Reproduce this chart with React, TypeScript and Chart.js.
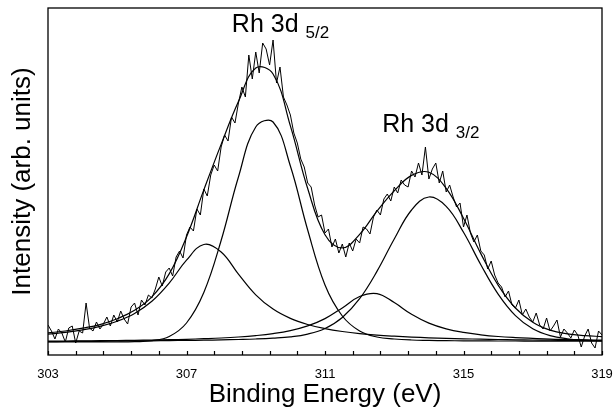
import React, { useEffect, useRef } from 'react';
import { Chart, registerables } from 'chart.js';

Chart.register(...registerables);

// Binding energy grid of the fitted curves (eV)
const fitEnergy = [
  303, 303.5, 304, 304.5, 305, 305.5, 306, 306.5, 307, 307.5, 308, 308.5, 309, 309.5, 310, 310.5,
  311, 311.5, 312, 312.5, 313, 313.5, 314, 314.5, 315, 315.5, 316, 316.5, 317, 317.5, 318, 318.5, 319,
];

// Fitted components (arb. units, drawn on the common baseline)
const peakA = [
  20.8, 22.6, 25.1, 28.6, 33.8, 41.6, 53.7, 71.9, 94.8, 110.5, 103, 80.9, 60.2, 45.9, 36.6, 30.5,
  26.4, 23.5, 21.4, 19.9, 18.8, 17.9, 17.2, 16.6, 16.2, 15.8, 15.5, 15.2, 15.0, 14.8, 14.6, 14.5, 14.4,
];
const peakB = [
  13, 13, 13, 13, 13, 13.3, 14.3, 18.5, 32, 62.5, 114.5, 178, 228, 233, 189, 125,
  70, 39, 24, 18, 16, 15, 14.6, 14.3, 14.2, 14.1, 14, 14, 13.9, 13.9, 13.9, 13.8, 13.8,
];
const peakC = [
  13.9, 14.0, 14.2, 14.3, 14.5, 14.7, 15.0, 15.3, 15.7, 16.3, 17.0, 18.0, 19.4, 21.4, 24.4, 29.1,
  36.4, 47.1, 58.5, 61.4, 52.4, 40.7, 31.9, 26.2, 22.6, 20.2, 18.5, 17.4, 16.6, 15.9, 15.5, 15.1, 14.8,
];
const peakD = [
  13.4, 13.5, 13.6, 13.7, 13.9, 14.1, 14.2, 14.4, 14.6, 14.8, 15.1, 15.5, 16.0, 16.8, 18.1, 20.9,
  26.5, 37.5, 56.3, 83.6, 116, 145, 158, 148.6, 122.7, 90.3, 60.9, 39.4, 26.2, 19.3, 16.2, 14.9, 14.3,
];
const envelope = [
  22.1, 24, 26.8, 30.4, 36.3, 44.7, 58.2, 81.1, 118.1, 165.1, 210.6, 253.4, 287, 281, 229.1, 166.5,
  120.3, 107.1, 120.7, 143.9, 164.2, 179.6, 182.7, 166.7, 136.7, 101.4, 69.9, 47, 32.8, 24.9, 21.2, 19.4, 18.4,
];

// Measured spectrum
const dataEnergy = [
  303.0, 303.1, 303.2, 303.3, 303.4, 303.5, 303.6, 303.7, 303.8, 303.9,
  304.0, 304.1, 304.2, 304.3, 304.4, 304.5, 304.6, 304.7, 304.8, 304.9,
  305.0, 305.1, 305.2, 305.3, 305.4, 305.5, 305.6, 305.7, 305.8, 305.9,
  306.0, 306.1, 306.2, 306.3, 306.4, 306.5, 306.6, 306.7, 306.8, 306.9,
  307.0, 307.1, 307.2, 307.3, 307.4, 307.5, 307.6, 307.7, 307.8, 307.9,
  308.0, 308.1, 308.2, 308.3, 308.4, 308.5, 308.6, 308.7, 308.8, 308.9,
  309.0, 309.1, 309.2, 309.3, 309.4, 309.5, 309.6, 309.7, 309.8, 309.9,
  310.0, 310.1, 310.2, 310.3, 310.4, 310.5, 310.6, 310.7, 310.8, 310.9,
  311.0, 311.1, 311.2, 311.3, 311.4, 311.5, 311.6, 311.7, 311.8, 311.9,
  312.0, 312.1, 312.2, 312.3, 312.4, 312.5, 312.6, 312.7, 312.8, 312.9,
  313.0, 313.1, 313.2, 313.3, 313.4, 313.5, 313.6, 313.7, 313.8, 313.9,
  314.0, 314.1, 314.2, 314.3, 314.4, 314.5, 314.6, 314.7, 314.8, 314.9,
  315.0, 315.1, 315.2, 315.3, 315.4, 315.5, 315.6, 315.7, 315.8, 315.9,
  316.0, 316.1, 316.2, 316.3, 316.4, 316.5, 316.6, 316.7, 316.8, 316.9,
  317.0, 317.1, 317.2, 317.3, 317.4, 317.5, 317.6, 317.7, 317.8, 317.9,
  318.0, 318.1, 318.2, 318.3, 318.4, 318.5, 318.6, 318.7, 318.8, 318.9,
  319.0,
];
const dataIntensity = [
  30, 24, 16, 26, 22, 13, 27, 29, 12, 24,
  22, 52, 27, 24, 33, 26, 31, 38, 29, 40,
  33, 44, 36, 31, 48, 52, 40, 55, 50, 60,
  57, 66, 78, 69, 83, 87, 79, 98, 104, 97,
  120, 128, 124, 146, 140, 166, 159, 180, 190, 184,
  208, 220, 214, 238, 232, 252, 268, 258, 300, 276,
  303, 282, 312, 306, 290, 315, 272, 288, 258, 250,
  240, 222, 212, 196, 188, 172, 168, 150, 138, 140,
  122, 126, 108, 116, 102, 111, 98, 112, 104, 116,
  112, 128, 126, 121, 138, 145, 140, 156, 161, 154,
  168, 162, 175, 170, 168, 184, 178, 192, 180, 208,
  176, 186, 192, 172, 184, 163, 170, 158, 148, 152,
  128, 140, 122, 113, 120, 104, 100, 86, 94, 80,
  72, 68, 58, 64, 50, 47, 55, 40, 46, 38,
  33, 42, 30, 26, 37, 24, 29, 35, 18, 26,
  22, 17, 25, 20, 8, 19, 26, 12, 7, 24,
  20,
];

// Axis ticks
const xTickValues = [
  303, 303.8, 304.6, 305.4, 306.2, 307, 307.8, 308.6, 309.4, 310.2, 311,
  311.8, 312.6, 313.4, 314.2, 315, 315.8, 316.6, 317.4, 318.2, 319,
];
const xTickLabels = [303, 307, 311, 315, 319];

// Peak annotations
const peakNames = ['Rh 3d', 'Rh 3d'];
const peakSubscripts = ['5/2', '3/2'];

const FONT = '"Liberation Sans", Arial, Helvetica, sans-serif';

const toPoints = (xs: number[], ys: number[]) => xs.map((x, i) => ({ x, y: ys[i] }));

export default function App() {
  const canvasRef = useRef<HTMLCanvasElement | null>(null);

  useEffect(() => {
    const canvas = canvasRef.current;
    if (!canvas) return;

    const annotationAnchors = [
      { x: 308.31, y: 323 },
      { x: 312.65, y: 223 },
    ];

    const framePlugin = {
      id: 'frame',
      afterDatasetsDraw(chart: any) {
        const { ctx, chartArea: a, scales } = chart;
        const xs = scales.x;
        const ys = scales.y;
        ctx.save();
        ctx.strokeStyle = '#000';
        ctx.lineWidth = 1.3;
        ctx.strokeRect(a.left, a.top, a.right - a.left, a.bottom - a.top);
        ctx.lineWidth = 1.2;
        xs.ticks.forEach((t: any) => {
          const px = Math.round(xs.getPixelForValue(t.value)) + 0.5;
          ctx.beginPath();
          ctx.moveTo(px, a.bottom);
          ctx.lineTo(px, a.bottom - 4);
          ctx.stroke();
        });
        ctx.fillStyle = '#000';
        ctx.textBaseline = 'alphabetic';
        ctx.textAlign = 'left';
        peakNames.forEach((name, i) => {
          const px = xs.getPixelForValue(annotationAnchors[i].x);
          const py = ys.getPixelForValue(annotationAnchors[i].y);
          ctx.font = `25px ${FONT}`;
          ctx.fillText(name, px, py);
          const w = ctx.measureText(name + ' ').width;
          ctx.font = `17px ${FONT}`;
          ctx.fillText(peakSubscripts[i], px + w, py + 6);
        });
        ctx.restore();
      },
    };

    const fitStyle = {
      borderColor: '#000',
      borderWidth: 1.2,
      pointRadius: 0,
      tension: 0.4,
      fill: false,
    };

    const chart = new Chart(canvas, {
      type: 'line',
      data: {
        datasets: [
          {
            label: 'Data',
            data: toPoints(dataEnergy, dataIntensity),
            borderColor: '#000',
            borderWidth: 1,
            pointRadius: 0,
            tension: 0,
            fill: false,
          },
          { label: 'Envelope', data: toPoints(fitEnergy, envelope), ...fitStyle },
          { label: 'Peak A', data: toPoints(fitEnergy, peakA), ...fitStyle },
          { label: 'Peak B', data: toPoints(fitEnergy, peakB), ...fitStyle },
          { label: 'Peak C', data: toPoints(fitEnergy, peakC), ...fitStyle },
          { label: 'Peak D', data: toPoints(fitEnergy, peakD), ...fitStyle },
        ],
      },
      options: {
        animation: false,
        responsive: false,
        events: [],
        layout: { padding: { top: 8, right: 11, left: 0, bottom: 0 } },
        plugins: {
          legend: { display: false },
          tooltip: { enabled: false },
          title: { display: false },
        },
        scales: {
          x: {
            type: 'linear',
            min: 303,
            max: 319,
            afterBuildTicks: (s: any) => {
              s.ticks = xTickValues.map((v) => ({ value: v }));
            },
            afterFit: (s: any) => {
              s.height = 55;
              s.paddingLeft = 0;
              s.paddingRight = 0;
            },
            grid: {
              display: true,
              drawOnChartArea: false,
              drawTicks: true,
              tickLength: 12,
              tickColor: 'rgba(0,0,0,0)',
            },
            border: { display: false },
            ticks: {
              autoSkip: false,
              maxRotation: 0,
              minRotation: 0,
              padding: 0,
              color: '#000',
              font: { family: FONT, size: 13 },
              callback: (value: any) => {
                const v = Math.round(Number(value) * 10) / 10;
                return xTickLabels.includes(v) ? String(v) : '';
              },
            },
            title: {
              display: true,
              text: 'Binding Energy (eV)',
              color: '#000',
              font: { family: FONT, size: 26 },
              padding: { top: 0, bottom: 0 },
            },
          },
          y: {
            type: 'linear',
            min: 0,
            max: 347,
            afterFit: (s: any) => {
              s.width = 48;
            },
            grid: { display: false },
            border: { display: false },
            ticks: { display: false },
            title: {
              display: true,
              text: 'Intensity (arb. units)',
              color: '#000',
              font: { family: FONT, size: 26 },
              padding: { top: 7, bottom: 0 },
            },
          },
        },
      },
      plugins: [framePlugin],
    } as any);

    return () => {
      chart.destroy();
    };
  }, []);

  return (
    <div style={{ position: 'fixed', left: 0, top: 0, width: 613, height: 410, background: '#fff' }}>
      <canvas ref={canvasRef} width={613} height={410} style={{ display: 'block' }} />
    </div>
  );
}
